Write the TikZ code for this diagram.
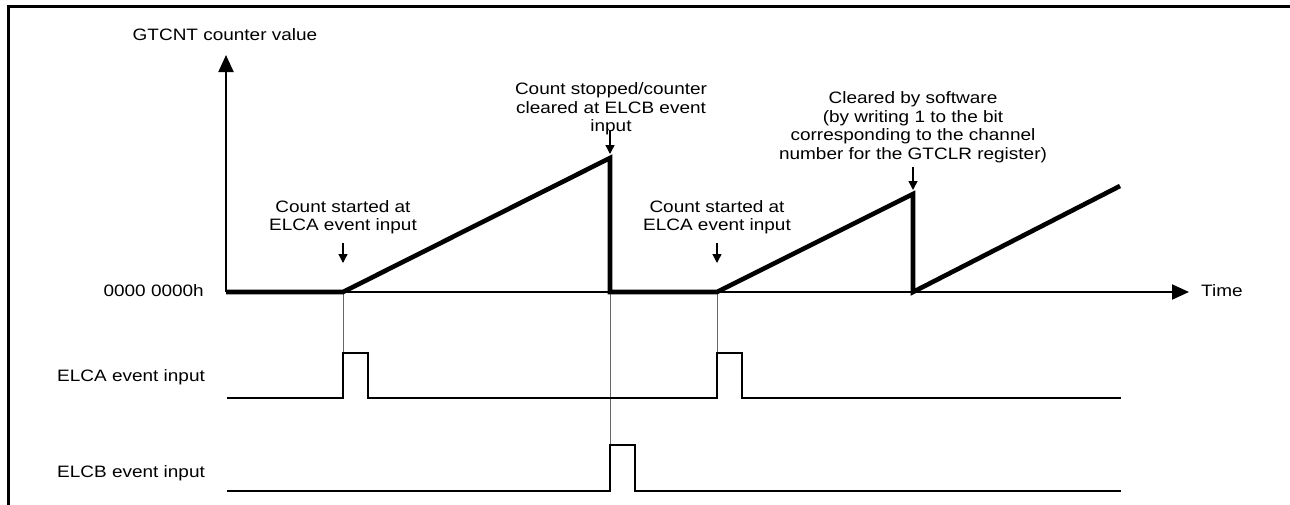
\documentclass[tikz,border=0pt]{standalone}
\usepackage{fontspec}
\setmainfont[FakeStretch=1.15]{Liberation Sans}
\usetikzlibrary{arrows.meta}
\begin{document}
\begin{tikzpicture}[x=1pt,y=-1pt,
  lbl/.style={font=\fontsize{16.5}{18.5}\selectfont, align=center, inner sep=0pt},
  axisline/.style={line width=2pt},
  cnt/.style={line width=4.6pt, line join=miter},
  sig/.style={line width=2.6pt, line join=miter},
  guide/.style={line width=1pt, black!60},
  note/.style={line width=1.4pt, -{Triangle[length=9pt,width=9pt]}},
  axarrow/.style={-{Triangle[length=17pt,width=15pt]}}]
\useasboundingbox (0,0) rectangle (1290,504);
\fill[white] (0,0) rectangle (1290,504);
% frame (top and left)
\draw[line width=3pt] (8,506) -- (8,6) -- (1292,6);

% key coordinates
\coordinate (o) at (226,292);
\coordinate (ytop) at (226,55);
\coordinate (xend) at (1189,292);
\coordinate (s1) at (343,292);
\coordinate (p1) at (610,158);
\coordinate (c1) at (610,292);
\coordinate (s2) at (717,292);
\coordinate (p2) at (913,194);
\coordinate (c2) at (913,292);
\coordinate (e3) at (1120,186);

% guides
\draw[guide] (s1) -- (343,353);
\draw[guide] (c1) -- (610,445);
\draw[guide] (s2) -- (717,353);

% axes
\draw[axisline, axarrow] (o) -- (ytop);
\draw[axisline, axarrow] (o) -- (xend);

% counter waveform
\draw[cnt] (o) -- (s1) -- (p1) -- (c1) -- (s2) -- (p2) -- (c2) -- (e3);

% ELCA signal
\coordinate (a0) at (227,398);
\draw[sig] (a0) -- (343,398) -- (343,353) -- (368,353) -- (368,398)
  -- (717,398) -- (717,353) -- (742,353) -- (742,398) -- (1121,398);
% ELCB signal
\coordinate (b0) at (227,491);
\draw[sig] (b0) -- (610,491) -- (610,445) -- (635,445) -- (635,491) -- (1121,491);

% labels
\node[lbl] (ylab) at (225,35) {GTCNT counter value};
\node[lbl, anchor=east] (zero) at (204,291) {0000 0000h};
\node[lbl, anchor=west] (tlab) at (1201,291) {Time};
\node[lbl, anchor=west] (elca) at (57,377) {ELCA event input};
\node[lbl, anchor=west] (elcb) at (57,473) {ELCB event input};

% annotations
\node[lbl] (n1) at (343,217) {Count started at\\ELCA event input};
\node[lbl] (n2) at (611,109) {Count stopped/counter\\cleared at ELCB event\\input};
\node[lbl] (n3) at (717,217) {Count started at\\ELCA event input};
\node[lbl] (n4) at (913,127) {Cleared by software\\(by writing 1 to the bit\\corresponding to the channel\\number for the GTCLR register)};

\draw[note] (343,243) -- (343,263);
\draw[note] (610,131) -- (610,154);
\draw[note] (717,243) -- (717,263);
\draw[note] (913,167) -- (913,190);
\end{tikzpicture}
\end{document}
